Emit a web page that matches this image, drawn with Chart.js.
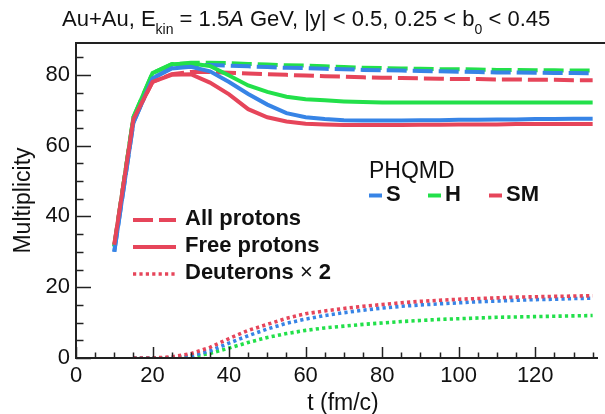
<!DOCTYPE html>
<html>
<head>
<meta charset="utf-8">
<script src="https://cdn.jsdelivr.net/npm/chart.js@4.4.1/dist/chart.umd.min.js"></script>
<style>
  html, body { margin: 0; padding: 0; background: #fff; }
  #contenedor { width: 605px; height: 414px; }
</style>
</head>
<body>
<div id="contenedor"><canvas id="multiplicidad"></canvas></div>
<script>
// tiempo (fm/c)
const tiempos = [10, 15, 20, 25, 30, 35, 40, 45, 50, 55, 60, 65, 70, 75, 80, 85, 90, 95, 100, 105, 110, 115, 120, 125, 130, 135];

// protones libres
const libresSM = [32, 67.5, 78, 80, 80.2, 77.8, 74.5, 70.3, 68, 66.8, 66.2, 66, 65.8, 65.8, 65.8, 65.8, 65.9, 65.9, 66, 66, 66, 66.1, 66.1, 66.1, 66.1, 66.1];
const libresS = [30, 66.5, 79, 81.8, 82.3, 81, 78, 74.6, 71.6, 69.2, 68, 67.5, 67.2, 67.1, 67.1, 67.1, 67.2, 67.2, 67.3, 67.3, 67.4, 67.4, 67.5, 67.5, 67.6, 67.6];
const libresH = [31.5, 68, 80.5, 83, 83.2, 82.5, 79.8, 77, 75.2, 73.8, 73.1, 72.8, 72.5, 72.3, 72.2, 72.2, 72.2, 72.2, 72.2, 72.2, 72.2, 72.2, 72.2, 72.2, 72.2, 72.2];

// todos los protones
const todosSM = [32, 67.5, 78, 80.2, 80.8, 80.8, 80.6, 80.4, 80.2, 80, 79.8, 79.6, 79.5, 79.3, 79.2, 79.1, 79, 78.9, 78.8, 78.8, 78.7, 78.7, 78.6, 78.6, 78.5, 78.5];
const todosS = [30, 66.5, 79, 82, 82.8, 82.8, 82.6, 82.4, 82.2, 82, 81.9, 81.7, 81.6, 81.4, 81.3, 81.2, 81.1, 81, 80.9, 80.8, 80.7, 80.7, 80.6, 80.5, 80.5, 80.4];
const todosH = [31.5, 68, 80.5, 83, 83.4, 83.4, 83.3, 83.1, 82.9, 82.7, 82.6, 82.4, 82.2, 82, 81.9, 81.8, 81.7, 81.6, 81.6, 81.5, 81.4, 81.4, 81.3, 81.3, 81.2, 81.2];

// deuterones x 2
const deuteronesSM = [null, 0, 0, 0.3, 1.2, 3, 5.5, 7.8, 9.5, 11.2, 12.5, 13.3, 14, 14.6, 15.1, 15.6, 16, 16.3, 16.6, 16.8, 17, 17.2, 17.3, 17.4, 17.5, 17.6];
const deuteronesS = [null, 0, 0, 0.1, 0.6, 2, 4.2, 6.3, 8.2, 9.8, 11, 12, 12.8, 13.5, 14.1, 14.6, 15, 15.3, 15.6, 15.9, 16.1, 16.3, 16.5, 16.6, 16.8, 16.9];
const deuteronesH = [null, 0, 0, 0, 0.4, 1.3, 2.8, 4.4, 5.8, 6.9, 7.8, 8.5, 9, 9.5, 9.9, 10.3, 10.6, 10.9, 11.1, 11.3, 11.5, 11.6, 11.7, 11.8, 11.9, 12];

const ticksY = [0, 20, 40, 60, 80];
const ticksX = [0, 20, 40, 60, 80, 100, 120];

const ROJO = '#e6455a';
const AZUL = '#3784e6';
const VERDE = '#22e04a';
const FUENTE = "'Liberation Sans', Arial, sans-serif";

const puntos = (valores) => tiempos.map((t, i) => ({ x: t, y: valores[i] }));

function serie(valores, color, trazo) {
  let dash = [];
  let ancho = 4;
  if (trazo === 'guion') dash = [20, 6];
  if (trazo === 'punto') { dash = [3.2, 3.2]; ancho = 3.6; }
  return {
    data: puntos(valores),
    borderColor: color,
    borderWidth: ancho,
    borderDash: dash,
    borderCapStyle: 'butt',
    pointRadius: 0,
    tension: 0,
    fill: false,
    spanGaps: false
  };
}

// ejes, marcas, titulos y leyendas dibujados a mano
const decoracion = {
  id: 'decoracion',
  afterDraw(chart) {
    const ctx = chart.ctx;
    const area = chart.chartArea;
    const ejeX = chart.scales.x;
    const ejeY = chart.scales.y;
    ctx.save();

    // marcas
    ctx.strokeStyle = '#222';
    ctx.lineWidth = 1.5;
    for (let v = 0; v <= 135; v += 5) {
      const px = Math.round(ejeX.getPixelForValue(v)) + 0.5;
      const largo = v % 20 === 0 ? 11 : 5.5;
      ctx.beginPath();
      ctx.moveTo(px, area.bottom);
      ctx.lineTo(px, area.bottom - largo);
      ctx.stroke();
    }
    for (let v = 0; v <= 85; v += 5) {
      const py = Math.round(ejeY.getPixelForValue(v)) + 0.5;
      const largo = v % 20 === 0 ? 15 : 7.5;
      ctx.beginPath();
      ctx.moveTo(area.left, py);
      ctx.lineTo(area.left + largo, py);
      ctx.stroke();
    }

    // marco
    ctx.lineWidth = 2;
    ctx.beginPath();
    ctx.moveTo(area.right + 7, area.top);
    ctx.lineTo(area.left, area.top);
    ctx.lineTo(area.left, area.bottom);
    ctx.lineTo(area.right, area.bottom);
    ctx.stroke();

    ctx.fillStyle = '#111';
    ctx.textBaseline = 'alphabetic';

    // titulo con subindices
    let x = 62;
    const base = 26;
    const trozos = [
      ['Au+Au, E', '22px', 0, ''],
      ['kin', '14px', 8, ''],
      [' = 1.5', '22px', 0, ''],
      ['A', '22px', 0, 'italic '],
      [' GeV, |y| < 0.5, 0.25 < b', '22px', 0, ''],
      ['0', '14px', 8, ''],
      [' < 0.45', '22px', 0, '']
    ];
    trozos.forEach(([texto, tam, bajar, estilo]) => {
      ctx.font = estilo + tam + ' ' + FUENTE;
      ctx.textAlign = 'left';
      ctx.fillText(texto, x, base + bajar);
      x += ctx.measureText(texto).width;
    });

    // titulos de ejes
    ctx.font = '23px ' + FUENTE;
    ctx.textAlign = 'center';
    ctx.fillText('t (fm/c)', 343, 410);
    ctx.save();
    ctx.translate(30, (area.top + area.bottom) / 2);
    ctx.rotate(-Math.PI / 2);
    ctx.fillText('Multiplicity', 0, 0);
    ctx.restore();

    // leyenda de especies (el signo x va en peso normal)
    const filas = [
      [['All protons'], [20, 6], 4, 220],
      [['Free protons'], [], 4, 247],
      [['Deuterons ', '\u00d7', ' 2'], [3.2, 3.2], 3.6, 274]
    ];
    filas.forEach(([partes, dash, ancho, y]) => {
      ctx.strokeStyle = ROJO;
      ctx.lineWidth = ancho;
      ctx.setLineDash(dash);
      ctx.beginPath();
      ctx.moveTo(133, y);
      ctx.lineTo(176, y);
      ctx.stroke();
      ctx.setLineDash([]);
      ctx.textAlign = 'left';
      ctx.textBaseline = 'middle';
      let xt = 185;
      partes.forEach((p) => {
        ctx.font = (p === '\u00d7' ? '' : 'bold ') + '22px ' + FUENTE;
        ctx.fillText(p, xt, y - 1);
        xt += ctx.measureText(p).width;
      });
    });

    // leyenda de modelos
    ctx.font = '23px ' + FUENTE;
    ctx.textBaseline = 'middle';
    ctx.fillText('PHQMD', 369, 172);
    const modelos = [['S', AZUL, 369], ['H', VERDE, 428], ['SM', ROJO, 489]];
    modelos.forEach(([texto, color, x0]) => {
      ctx.strokeStyle = color;
      ctx.lineWidth = 4;
      ctx.beginPath();
      ctx.moveTo(x0, 195.5);
      ctx.lineTo(x0 + 13, 195.5);
      ctx.stroke();
      ctx.font = 'bold 22px ' + FUENTE;
      ctx.fillText(texto, x0 + 17, 195);
    });

    ctx.restore();
  }
};

const ctx = document.getElementById('multiplicidad');
new Chart(ctx, {
  type: 'line',
  data: {
    datasets: [
      serie(libresSM, ROJO, 'solido'),
      serie(libresS, AZUL, 'solido'),
      serie(libresH, VERDE, 'solido'),
      serie(todosSM, ROJO, 'guion'),
      serie(todosS, AZUL, 'guion'),
      serie(todosH, VERDE, 'guion'),
      serie(deuteronesSM, ROJO, 'punto'),
      serie(deuteronesS, AZUL, 'punto'),
      serie(deuteronesH, VERDE, 'punto')
    ]
  },
  options: {
    responsive: true,
    maintainAspectRatio: false,
    animation: false,
    devicePixelRatio: 1,
    layout: { padding: { left: 0, right: 7, top: 43, bottom: 0 } },
    plugins: {
      legend: { display: false },
      tooltip: { enabled: false },
      title: { display: false }
    },
    scales: {
      x: {
        type: 'linear',
        min: 0,
        max: 136.4,
        border: { display: false },
        grid: { display: false, drawTicks: false },
        afterFit: (eje) => { eje.height = 56; },
        afterBuildTicks: (eje) => { eje.ticks = ticksX.map((v) => ({ value: v })); },
        ticks: {
          padding: 5,
          color: '#111',
          maxRotation: 0,
          font: { size: 22, family: FUENTE }
        }
      },
      y: {
        min: 0,
        max: 89,
        border: { display: false },
        grid: { display: false, drawTicks: false },
        afterFit: (eje) => { eje.width = 76; },
        afterBuildTicks: (eje) => { eje.ticks = ticksY.map((v) => ({ value: v })); },
        ticks: {
          padding: 6,
          color: '#111',
          font: { size: 22, family: FUENTE }
        }
      }
    }
  },
  plugins: [decoracion]
});
</script>
</body>
</html>
